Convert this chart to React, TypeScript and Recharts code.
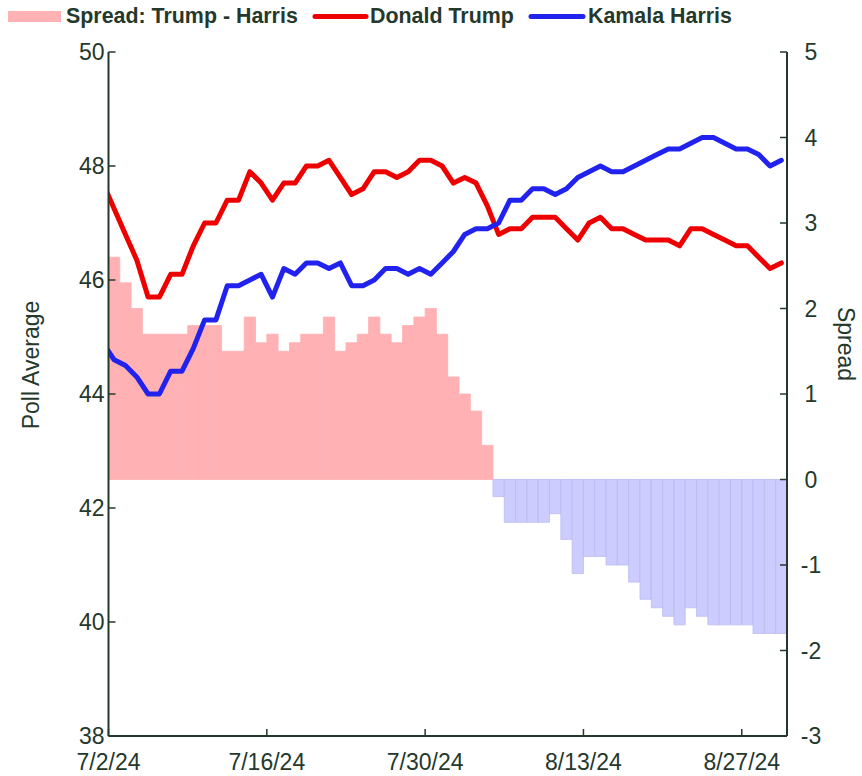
import React from 'react';
import { ComposedChart, Bar, Line, XAxis, YAxis, Cell } from 'recharts';

// Daily poll averages (points sit at the middle of each day, first one just before 7/2)
const trump = [
  47.7, 47.25, 46.8, 46.35, 45.7, 45.7, 46.1, 46.1, 46.6, 47.0,
  47.0, 47.4, 47.4, 47.9, 47.7, 47.4, 47.7, 47.7, 48.0, 48.0,
  48.1, 47.8, 47.5, 47.6, 47.9, 47.9, 47.8, 47.9, 48.1, 48.1,
  48.0, 47.7, 47.8, 47.7, 47.3, 46.8, 46.9, 46.9, 47.1, 47.1,
  47.1, 46.9, 46.7, 47.0, 47.1, 46.9, 46.9, 46.8, 46.7, 46.7,
  46.7, 46.6, 46.9, 46.9, 46.8, 46.7, 46.6, 46.6, 46.4, 46.2,
  46.3,
];
const harris = [
  44.9, 44.6, 44.5, 44.3, 44.0, 44.0, 44.4, 44.4, 44.8, 45.3,
  45.3, 45.9, 45.9, 46.0, 46.1, 45.7, 46.2, 46.1, 46.3, 46.3,
  46.2, 46.3, 45.9, 45.9, 46.0, 46.2, 46.2, 46.1, 46.2, 46.1,
  46.3, 46.5, 46.8, 46.9, 46.9, 47.0, 47.4, 47.4, 47.6, 47.6,
  47.5, 47.6, 47.8, 47.9, 48.0, 47.9, 47.9, 48.0, 48.1, 48.2,
  48.3, 48.3, 48.4, 48.5, 48.5, 48.4, 48.3, 48.3, 48.2, 48.0,
  48.1,
];
// Spread (Trump - Harris), one bar per day 7/2 .. 8/30
const spread: (number | null)[] = [
  null,
  2.6, 2.3, 2.0, 1.7, 1.7, 1.7, 1.7, 1.8, 1.8, 1.8,
  1.5, 1.5, 1.9, 1.6, 1.7, 1.5, 1.6, 1.7, 1.7, 1.9,
  1.5, 1.6, 1.7, 1.9, 1.7, 1.6, 1.8, 1.9, 2.0, 1.7,
  1.2, 1.0, 0.8, 0.4, -0.2, -0.5, -0.5, -0.5, -0.5, -0.4,
  -0.7, -1.1, -0.9, -0.9, -1.0, -1.0, -1.2, -1.4, -1.5, -1.6,
  -1.7, -1.5, -1.6, -1.7, -1.7, -1.7, -1.7, -1.8, -1.8, -1.8,
];
const xTickDays = [0, 14, 28, 42, 56];
const xTickLabels = ['7/2/24', '7/16/24', '7/30/24', '8/13/24', '8/27/24'];
const leftTicks = [38, 40, 42, 44, 46, 48, 50];
const rightTicks = [-3, -2, -1, 0, 1, 2, 3, 4, 5];
const seriesNames = ['Spread: Trump - Harris', 'Donald Trump', 'Kamala Harris'];
const axisTitles = ['Poll Average', 'Spread'];

const data = trump.map((t, i) => ({
  x: i - 0.5,
  trump: t,
  harris: harris[i],
  spread: spread[i],
}));

const INK = '#25382c';
const FONT = '"Liberation Sans", Arial, Helvetica, sans-serif';
const RED = '#ee0000';
const BLUE = '#2222ee';
const PINK = '#ffb1b3';
const LAV = '#ccccff';

const XTick = (props: any) => {
  const { x, y, payload } = props;
  const idx = xTickDays.indexOf(payload.value);
  return (
    <g>
      <line x1={x} x2={x} y1={y} y2={y - 7} stroke={INK} strokeWidth={1.5} />
      <text x={x} y={y + 34} textAnchor="middle" fill={INK} fontSize={23} fontFamily={FONT}>
        {xTickLabels[idx]}
      </text>
    </g>
  );
};

const LeftTick = (props: any) => {
  const { x, y, payload } = props;
  return (
    <g>
      <line x1={x} x2={x + 7} y1={y} y2={y} stroke={INK} strokeWidth={1.5} />
      <text x={x - 4} y={y} dy="0.35em" textAnchor="end" fill={INK} fontSize={23} fontFamily={FONT}>
        {payload.value}
      </text>
    </g>
  );
};

const RightTick = (props: any) => {
  const { x, y, payload } = props;
  return (
    <g>
      <line x1={x} x2={x - 7} y1={y} y2={y} stroke={INK} strokeWidth={1.5} />
      <text x={x + 24} y={y} dy="0.35em" textAnchor="middle" fill={INK} fontSize={23} fontFamily={FONT}>
        {payload.value}
      </text>
    </g>
  );
};

export default function App() {
  return (
    <div style={{ position: 'absolute', left: 0, top: 0, width: 862, height: 776, background: '#fff' }}>
      <ComposedChart
        width={862}
        height={776}
        data={data}
        margin={{ top: 52, right: 0, bottom: 0, left: 0 }}
        barGap={0}
        barCategoryGap={0}
      >
        <XAxis
          dataKey="x"
          type="number"
          domain={[0, 60]}
          allowDataOverflow
          ticks={xTickDays}
          interval={0}
          height={40}
          tickSize={0}
          tickMargin={0}
          tickLine={false}
          tick={<XTick />}
          axisLine={{ stroke: INK, strokeWidth: 2 }}
        />
        <YAxis
          yAxisId="left"
          orientation="left"
          type="number"
          domain={[38, 50]}
          ticks={leftTicks}
          interval={0}
          width={108.5}
          tickSize={0}
          tickMargin={0}
          tickLine={false}
          tick={<LeftTick />}
          axisLine={{ stroke: INK, strokeWidth: 2 }}
        />
        <YAxis
          yAxisId="right"
          orientation="right"
          type="number"
          domain={[-3, 5]}
          ticks={rightTicks}
          interval={0}
          width={75}
          tickSize={0}
          tickMargin={0}
          tickLine={false}
          tick={<RightTick />}
          axisLine={{ stroke: INK, strokeWidth: 2 }}
        />
        <Bar
          yAxisId="right"
          dataKey="spread"
          name={seriesNames[0]}
          barSize={11.3}
          isAnimationActive={false}
        >
          {data.map((d, i) => (
            <Cell
              key={i}
              fill={d.spread !== null && d.spread < 0 ? LAV : PINK}
              stroke={d.spread !== null && d.spread < 0 ? '#babaf4' : PINK}
              strokeWidth={0.8}
            />
          ))}
        </Bar>
        <Line
          yAxisId="left"
          dataKey="trump"
          name={seriesNames[1]}
          stroke={RED}
          strokeWidth={5}
          strokeLinejoin="round"
          strokeLinecap="round"
          dot={false}
          activeDot={false}
          isAnimationActive={false}
        />
        <Line
          yAxisId="left"
          dataKey="harris"
          name={seriesNames[2]}
          stroke={BLUE}
          strokeWidth={5}
          strokeLinejoin="round"
          strokeLinecap="round"
          dot={false}
          activeDot={false}
          isAnimationActive={false}
        />
      </ComposedChart>
      <svg
        width={862}
        height={776}
        style={{ position: 'absolute', left: 0, top: 0, pointerEvents: 'none' }}
      >
        <rect x={8} y={11} width={53} height={11} fill={PINK} />
        <text x={66} y={23} fill={INK} fontSize={21.4} fontWeight="bold" fontFamily={FONT}>
          {seriesNames[0]}
        </text>
        <line x1={315} x2={366} y1={16.5} y2={16.5} stroke={RED} strokeWidth={5} strokeLinecap="round" />
        <text x={370} y={23} fill={INK} fontSize={21.4} fontWeight="bold" fontFamily={FONT}>
          {seriesNames[1]}
        </text>
        <line x1={531} x2={583} y1={16.5} y2={16.5} stroke={BLUE} strokeWidth={5} strokeLinecap="round" />
        <text x={588} y={23} fill={INK} fontSize={21.4} fontWeight="bold" fontFamily={FONT}>
          {seriesNames[2]}
        </text>
        <text
          x={0}
          y={0}
          transform="translate(31,365) rotate(-90)"
          textAnchor="middle"
          dy="0.35em"
          fill={INK}
          fontSize={23}
          fontFamily={FONT}
        >
          {axisTitles[0]}
        </text>
        <text
          x={0}
          y={0}
          transform="translate(846,344) rotate(90)"
          textAnchor="middle"
          dy="0.35em"
          fill={INK}
          fontSize={23}
          fontFamily={FONT}
        >
          {axisTitles[1]}
        </text>
      </svg>
    </div>
  );
}
